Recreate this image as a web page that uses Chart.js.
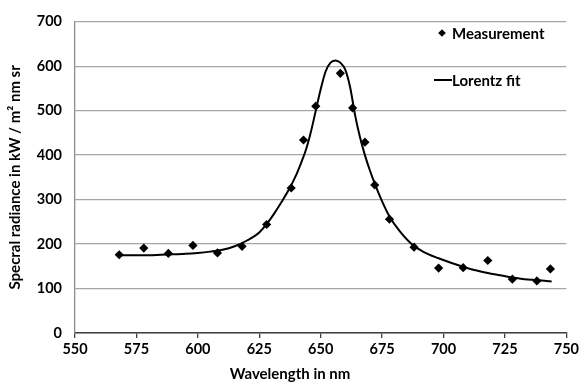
<!DOCTYPE html>
<html lang="en">
<head>
    <meta charset="UTF-8">
    <title>Lorentz fit</title>
    <script src="https://cdn.jsdelivr.net/npm/chart.js"></script>
    <style>
        body {
            margin: 0;
            background: #ffffff;
        }
        .wrap {
            width: 582px;
            height: 387px;
            position: relative;
        }
    </style>
</head>
<body>
    <div class="wrap">
        <canvas id="fitChart"></canvas>
    </div>

    <script>
        // measured points (nm, kW / m2 nm sr)
        const measWavelength = [568, 578, 588, 598, 608, 618, 628, 638, 643, 648, 658, 663, 668, 672, 678, 688, 698, 708, 718, 728, 738, 743.5];
        const measRadiance = [176, 191, 179, 197, 180, 195, 244, 326, 434, 510, 584, 506, 429, 333, 256, 193, 146, 147, 163, 121, 117, 144];

        // fit curve
        const fitWavelength = [568, 575, 580, 585, 590, 595, 600, 605, 610, 615, 620, 625, 628, 631, 634, 637, 640, 642, 644, 646, 648, 650, 652, 654, 656, 658, 660, 662, 664, 666, 668, 670, 672, 675, 678, 682, 687, 692, 698, 703, 708, 713, 718, 723, 728, 733, 738, 744];
        const fitRadiance = [175, 175, 175, 176, 177, 178, 180, 183, 187, 195, 208, 226, 245, 268, 294, 322, 355, 382, 412, 452, 500, 548, 588, 608, 613, 608, 592, 552, 490, 440, 400, 366, 336, 296, 262, 230, 200, 182, 168, 158, 149, 141, 135, 130, 125, 121, 119, 116];

        const xTicks = [550, 575, 600, 625, 650, 675, 700, 725, 750];
        const yTicks = [0, 100, 200, 300, 400, 500, 600, 700];

        const FONT = 'Lato, "Open Sans", sans-serif';

        // legend inside the plot (top right) + x title centred on the page
        const extrasPlugin = {
            id: 'extras',
            afterDraw(chart) {
                const ctx = chart.ctx;
                ctx.save();
                ctx.fillStyle = '#000';
                ctx.strokeStyle = '#000';
                ctx.font = 'bold 15px ' + FONT;
                ctx.textBaseline = 'middle';

                // diamond marker
                const mx = 442, my = 33, r = 3.8;
                ctx.beginPath();
                ctx.moveTo(mx, my - r);
                ctx.lineTo(mx + r, my);
                ctx.lineTo(mx, my + r);
                ctx.lineTo(mx - r, my);
                ctx.closePath();
                ctx.fill();
                ctx.fillText('Measurement', 452, my + 1);

                // line sample
                ctx.lineWidth = 2;
                ctx.beginPath();
                ctx.moveTo(434, 80);
                ctx.lineTo(452, 80);
                ctx.stroke();
                ctx.fillText('Lorentz fit', 452, 81);

                ctx.textAlign = 'center';
                ctx.fillText('Wavelength in nm', 290, 374);
                ctx.restore();
            }
        };

        const ctx = document.getElementById('fitChart').getContext('2d');
        new Chart(ctx, {
            type: 'scatter',
            data: {
                datasets: [{
                    label: 'Measurement',
                    data: measWavelength.map((w, i) => ({ x: w, y: measRadiance[i] })),
                    pointStyle: 'rectRot',
                    pointRadius: 4.6,
                    pointBackgroundColor: '#000',
                    pointBorderColor: '#000',
                    pointBorderWidth: 0,
                    order: 1
                }, {
                    label: 'Lorentz fit',
                    data: fitWavelength.map((w, i) => ({ x: w, y: fitRadiance[i] })),
                    showLine: true,
                    borderColor: '#000',
                    borderWidth: 2,
                    pointRadius: 0,
                    cubicInterpolationMode: 'monotone',
                    order: 2
                }]
            },
            options: {
                responsive: true,
                maintainAspectRatio: false,
                animation: false,
                layout: {
                    padding: { top: 10, right: 13, left: 0, bottom: 0 }
                },
                plugins: {
                    legend: { display: false },
                    tooltip: { enabled: false }
                },
                scales: {
                    x: {
                        type: 'linear',
                        min: 550,
                        max: 750,
                        afterBuildTicks: axis => { axis.ticks = xTicks.map(v => ({ value: v })); },
                        afterFit: axis => { axis.height = 54; },
                        ticks: {
                            color: '#000',
                            font: { family: FONT, size: 14.5, weight: 'bold' },
                            padding: 3,
                            maxRotation: 0
                        },
                        grid: {
                            drawOnChartArea: false,
                            drawTicks: true,
                            tickLength: 5,
                            color: '#404040',
                            lineWidth: 1.3
                        },
                        border: { color: '#404040', width: 1.5 },
                        title: { display: false }
                    },
                    y: {
                        min: 0,
                        max: 700,
                        afterBuildTicks: axis => { axis.ticks = yTicks.map(v => ({ value: v })); },
                        afterFit: axis => { axis.width = 75; },
                        ticks: {
                            color: '#000',
                            font: { family: FONT, size: 14.5, weight: 'bold' },
                            padding: 13
                        },
                        grid: {
                            drawTicks: false,
                            color: '#a6a6a6',
                            lineWidth: 1.3
                        },
                        border: { color: '#8c8c8c', width: 1.3 },
                        title: {
                            display: true,
                            text: 'Specral radiance in kW / m² nm sr',
                            color: '#000',
                            font: { family: FONT, size: 15, weight: 'bold' },
                            padding: { top: 6, bottom: 0 }
                        }
                    }
                }
            },
            plugins: [extrasPlugin]
        });
    </script>
</body>
</html>
